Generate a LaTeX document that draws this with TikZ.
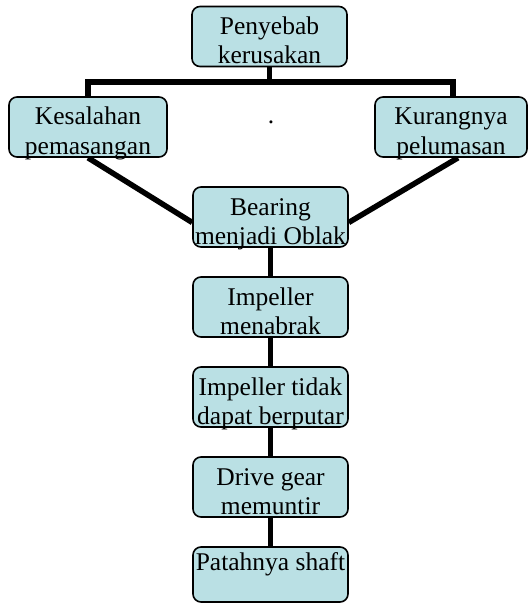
\documentclass[tikz,border=0pt]{standalone}
\usepackage{fontspec}
\setmainfont{Liberation Serif}
\usetikzlibrary{calc,backgrounds}
\definecolor{boxfill}{RGB}{186,224,228}
\tikzset{
  box/.style={draw=black, line width=1.6pt, fill=boxfill, rounded corners=8pt,
    minimum height=60pt, inner sep=0pt, align=center,
    font=\fontsize{25.5pt}{29pt}\selectfont, text depth=0pt, text height=54pt},
  conn/.style={draw=black, line width=5.5pt}
}
\begin{document}
\begin{tikzpicture}[x=1pt, y=-1pt]
\useasboundingbox (0,0) rectangle (527,604);
\node[box, minimum width=155pt] (top) at (269.5,36.5) {Penyebab\\kerusakan};
\node[box, minimum width=158pt] (left) at (88,127) {Kesalahan\\pemasangan};
\node[box, minimum width=152pt] (right) at (451,127) {Kurangnya\\pelumasan};
\node[box, minimum width=155pt] (bear) at (270.5,217) {Bearing\\menjadi Oblak};
\node[box, minimum width=155pt] (imp) at (270.5,307) {Impeller\\menabrak};
\node[box, minimum width=155pt] (tidak) at (270.5,397) {Impeller tidak\\dapat berputar};
\node[box, minimum width=155pt] (drive) at (270.5,487) {Drive gear\\memuntir};
\node[box, minimum width=155pt, minimum height=55pt, text height=49pt] (patah) at (270.5,574.5) {Patahnya shaft\\~};
\node[font=\fontsize{25.5pt}{29pt}\selectfont, inner sep=0pt] (dot) at (271,122) {.};
\coordinate (bus) at (269.5,82);
\coordinate (busL) at (88,82);
\coordinate (busR) at (453,82);
\begin{pgfonlayer}{background}
\draw[conn] (top.south) -- (bus);
\draw[conn, line cap=rect] (busL) -- (busR);
\draw[conn] (busL) -- (left.north);
\draw[conn] (busR) -- ($(right.north)+(2,0)$);
\draw[conn] (left.south) -- (bear.184);
\draw[conn] ($(right.south)+(7,0)$) -- (bear.-4);
\draw[conn] (bear.south) -- (imp.north);
\draw[conn] (imp.south) -- (tidak.north);
\draw[conn] (tidak.south) -- (drive.north);
\draw[conn] (drive.south) -- (patah.north);
\end{pgfonlayer}
\end{tikzpicture}
\end{document}
